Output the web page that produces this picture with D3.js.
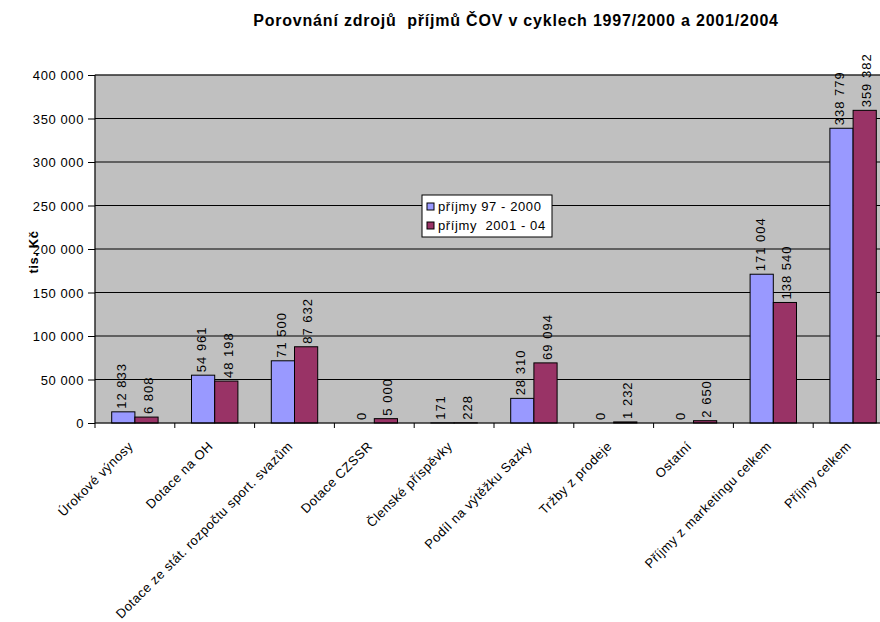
<!DOCTYPE html>
<html>
<head>
<meta charset="utf-8">
<script src="https://cdn.jsdelivr.net/npm/d3@7"></script>
<style>
  body { margin: 0; background: #fff; }
  svg { font-family: "Liberation Sans", Arial, sans-serif; }
</style>
</head>
<body>
<div id="vis"></div>
<script>
const categories = [
  "Úrokové výnosy",
  "Dotace na OH",
  "Dotace ze stát. rozpočtu sport. svazům",
  "Dotace CZSSR",
  "Členské příspěvky",
  "Podíl na výtěžku Sazky",
  "Tržby z prodeje",
  "Ostatní",
  "Příjmy z marketingu celkem",
  "Příjmy celkem",
];
const seriesNames = ["příjmy 97 - 2000", "příjmy  2001 - 04"];
const values9700 = [12833, 54961, 71500, 0, 171, 28310, 0, 0, 171004, 338779];
const values0104 = [6808, 48198, 87632, 5000, 228, 69094, 1232, 2650, 138540, 359382];
const yTicks = [0, 50000, 100000, 150000, 200000, 250000, 300000, 350000, 400000];
const colors = ["#9999FF", "#993366"];

const margin = { top: 75, left: 95 };
const plotW = 798;
const plotH = 348;

const svg = d3.select("#vis").append("svg")
  .attr("width", 880).attr("height", 622);

const g = svg.append("g").attr("transform", `translate(${margin.left},${margin.top})`);

const x = d3.scaleBand().domain(categories).range([0, plotW]);
const y = d3.scaleLinear().domain([0, 400000]).range([plotH, 0]);
const inner = d3.scaleBand().domain([0, 1]).range([16.7, x.bandwidth() - 16.7]);

// plot background
g.append("rect").attr("width", plotW).attr("height", plotH)
  .attr("fill", "#C0C0C0").attr("stroke", "#808080");

// gridlines
g.selectAll(".grid").data(yTicks.slice(1)).enter().append("line")
  .attr("x1", 0).attr("x2", plotW)
  .attr("y1", d => y(d)).attr("y2", d => y(d))
  .attr("stroke", "#000").attr("stroke-width", 1);

// bars + labels
const data = categories.map((c, i) => ({ c, v: [values9700[i], values0104[i]] }));
const fmt = v => d3.format(",")(v).replace(/,/g, " ");

const grp = g.selectAll(".cat").data(data).enter().append("g")
  .attr("transform", d => `translate(${x(d.c)},0)`);

grp.selectAll("rect").data(d => d.v).enter().append("rect")
  .attr("x", (d, i) => inner(i))
  .attr("y", d => y(d))
  .attr("width", inner.bandwidth())
  .attr("height", d => plotH - y(d))
  .attr("fill", (d, i) => colors[i])
  .attr("stroke", "#000").attr("stroke-width", 1);

// labels sit a little wider apart than the bars
grp.selectAll("text").data(d => d.v).enter().append("text")
  .attr("transform", (d, i) => `translate(${x.bandwidth() / 2 + (i - 0.5) * 26.5 + 4.6},${y(d) - 3}) rotate(-90)`)
  .attr("font-size", 13)
  .attr("letter-spacing", 1)
  .text(d => fmt(d));

// y axis
const yAxis = g.append("g")
  .call(d3.axisLeft(y).tickValues(yTicks).tickSize(7).tickPadding(4).tickFormat(fmt));
yAxis.select(".domain").remove();
yAxis.selectAll("line").attr("stroke", "#000");
yAxis.selectAll("text").attr("font-size", 13).attr("fill", "#000")
  .attr("letter-spacing", 0.6).attr("dy", "0.36em")
  .style("font-family", "Liberation Sans, Arial");
g.append("line").attr("x1", 0).attr("x2", 0).attr("y1", 0).attr("y2", plotH).attr("stroke", "#000");

// x axis
const xAxis = g.append("g").attr("transform", `translate(0,${plotH})`);
xAxis.append("line").attr("x1", 0).attr("x2", plotW).attr("stroke", "#000");
xAxis.selectAll(".tk").data(d3.range(categories.length + 1)).enter().append("line")
  .attr("x1", d => d * x.step()).attr("x2", d => d * x.step())
  .attr("y1", 0).attr("y2", 5).attr("stroke", "#000");
xAxis.selectAll(".lbl").data(categories).enter().append("text")
  .attr("transform", d => `translate(${x(d) + x.bandwidth() / 2 - 1},${24}) rotate(-45)`)
  .attr("text-anchor", "end")
  .attr("font-size", 13)
  .attr("letter-spacing", 0.5)
  .text(d => d);

// title
svg.append("text").attr("x", 516).attr("y", 26)
  .attr("text-anchor", "middle").attr("font-size", 16).attr("font-weight", "bold")
  .attr("letter-spacing", 0.8)
  .style("white-space", "pre")
  .text("Porovnání zdrojů  příjmů ČOV v cyklech 1997/2000 a 2001/2004");

// y title
svg.append("text").attr("transform", "translate(38,252) rotate(-90)")
  .attr("text-anchor", "middle").attr("font-size", 13).attr("font-weight", "bold")
  .attr("letter-spacing", 0.6)
  .style("white-space", "pre")
  .text("tis. Kč");

// legend
const lg = svg.append("g").attr("transform", "translate(422,195)");
lg.append("rect").attr("width", 130).attr("height", 42)
  .attr("fill", "#fff").attr("stroke", "#000");
seriesNames.forEach((s, i) => {
  lg.append("rect").attr("x", 5).attr("y", 8 + i * 19).attr("width", 7).attr("height", 7)
    .attr("fill", colors[i]).attr("stroke", "#000");
  lg.append("text").attr("x", 16).attr("y", 16 + i * 19).attr("font-size", 13)
    .attr("letter-spacing", 0.6)
    .style("white-space", "pre").text(s);
});
</script>
</body>
</html>
